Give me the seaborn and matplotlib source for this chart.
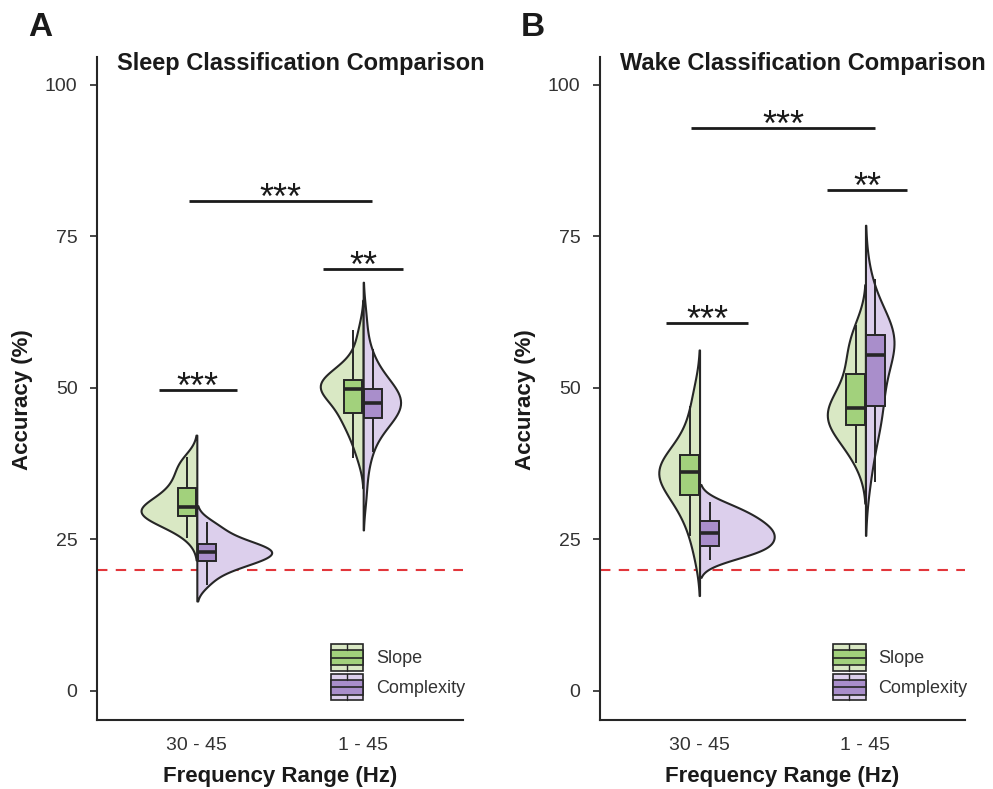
import numpy as np
import pandas as pd
import matplotlib
matplotlib.use("Agg")
import matplotlib.pyplot as plt
import seaborn as sns
from matplotlib.patches import Rectangle, Patch
from matplotlib.lines import Line2D
from matplotlib.legend_handler import HandlerBase

# ---------------- data ----------------
categories = ["30 - 45", "1 - 45"]
methods = ["Slope", "Complexity"]

sleep_30_slope = [25.2, 26.4, 27.3, 27.8, 28.1, 28.3, 28.7, 29.0, 29.1, 29.5, 29.6, 29.8, 30.1,
                  30.2, 30.6, 30.7, 31.2, 31.6, 32.1, 32.7, 33.3, 33.9, 34.5, 35.4, 36.3,
                  37.1, 37.9, 38.6]
sleep_30_complexity = [17.5, 18.8, 19.8, 20.5, 20.9, 21.1, 21.5, 21.8, 22.1, 22.4, 22.6, 22.8,
                       23.0, 23.2, 23.4, 23.6, 23.9, 24.2, 24.6, 25.0, 25.6, 26.4, 27.1, 27.9]
sleep_1_slope = [38.4, 40.5, 42.0, 43.3, 44.4, 45.0, 45.4, 46.0, 46.8, 47.8, 48.6, 49.2, 49.5,
                 49.8, 50.0, 50.2, 50.4, 50.6, 50.8, 51.0, 51.3, 51.6, 52.0, 52.6, 53.5,
                 55.0, 57.0, 59.6]
sleep_1_complexity = [32.5, 37.5, 39.5, 41.5, 43.0, 43.9, 44.4, 45.2, 45.8, 46.0, 46.3, 46.6,
                      46.9, 47.2, 47.8, 48.2, 48.6, 48.8, 49.2, 49.4, 49.8, 50.2, 51.2, 52.2,
                      53.3, 54.8, 56.5, 61.5]

wake_30_slope = [22.2, 25.5, 27.5, 29.0, 30.3, 31.2, 32.0, 32.8, 33.5, 34.2, 34.9, 35.2, 35.5,
                 36.1, 36.4, 36.7, 37.0, 37.3, 37.9, 38.6, 39.3, 40.2, 41.3, 42.8, 44.5,
                 47.0, 49.8]
wake_30_complexity = [21.6, 22.3, 22.8, 23.1, 23.4, 23.7, 24.0, 24.4, 24.8, 25.2, 25.6, 25.9,
                      26.1, 26.4, 26.8, 27.2, 27.6, 28.0, 28.4, 28.8, 29.3, 29.8, 30.5, 31.2]
wake_1_slope = [37.6, 39.5, 41.0, 42.2, 43.0, 43.6, 44.2, 44.8, 45.3, 45.8, 46.2,
                46.7, 47.2, 48.0, 49.0, 50.2, 51.5, 53.2, 54.5, 55.8, 57.3, 58.8, 60.4]
wake_1_complexity = [34.5, 38.5, 41.5, 43.5, 45.0, 46.0, 47.0, 48.5, 50.0, 51.5, 53.0, 54.5,
                     55.5, 56.5, 57.3, 57.8, 58.0, 58.5, 58.8, 59.0, 59.8, 61.0, 62.5, 64.5,
                     68.0]

chance_level = 20

# significance annotations: (x_start, x_end, y, label)
sleep_sig = [(-0.05, 1.05, 80.9, "***"), (0.76, 1.24, 69.6, "**"), (-0.23, 0.24, 49.7, "***")]
wake_sig = [(-0.05, 1.06, 92.9, "***"), (0.77, 1.25, 82.7, "**"), (-0.2, 0.29, 60.7, "***")]

titles = ["Sleep Classification Comparison", "Wake Classification Comparison"]
panel_letters = ["A", "B"]
yticks = [0, 25, 50, 75, 100]


def make_df(groups):
    rows = []
    for (cat, meth), vals in groups.items():
        for v in vals:
            rows.append({"Frequency": cat, "Method": meth, "Accuracy": v})
    return pd.DataFrame(rows)


sleep_df = make_df({
    ("30 - 45", "Slope"): sleep_30_slope,
    ("30 - 45", "Complexity"): sleep_30_complexity,
    ("1 - 45", "Slope"): sleep_1_slope,
    ("1 - 45", "Complexity"): sleep_1_complexity,
})
wake_df = make_df({
    ("30 - 45", "Slope"): wake_30_slope,
    ("30 - 45", "Complexity"): wake_30_complexity,
    ("1 - 45", "Slope"): wake_1_slope,
    ("1 - 45", "Complexity"): wake_1_complexity,
})

# ---------------- style ----------------
sns.set_theme(style="white")
plt.rcParams["font.family"] = ["Liberation Sans", "DejaVu Sans"]

violin_pal = {"Slope": "#d9e8c4", "Complexity": "#dccfec"}
box_pal = {"Slope": "#a2d17c", "Complexity": "#a98ecb"}
edge = "#262626"

fig = plt.figure(figsize=(9.93, 7.89), dpi=100)
axA = fig.add_axes([97 / 993, 69 / 789, 366 / 993, 663 / 789])
axB = fig.add_axes([600 / 993, 69 / 789, 365 / 993, 663 / 789])


class BoxKey(HandlerBase):
    def __init__(self, light, dark):
        super().__init__()
        self.light = light
        self.dark = dark

    def create_artists(self, legend, orig_handle, xdescent, ydescent, width, height, fontsize, trans):
        x0, y0 = -xdescent, -ydescent
        arts = [
            Rectangle((x0, y0), width, height, facecolor=self.light, edgecolor=edge, lw=1.2, transform=trans),
            Rectangle((x0, y0 + 0.22 * height), width, 0.56 * height, facecolor=self.dark,
                      edgecolor=edge, lw=1.2, transform=trans),
            Line2D([x0, x0 + width], [y0 + 0.5 * height] * 2, color=edge, lw=1.2, transform=trans),
            Line2D([x0 + width / 2] * 2, [y0, y0 + 0.22 * height], color=edge, lw=1.0, transform=trans),
            Line2D([x0 + width / 2] * 2, [y0 + 0.78 * height, y0 + height], color=edge, lw=1.0, transform=trans),
        ]
        return arts


for ax, df, sig, title, letter in zip([axA, axB], [sleep_df, wake_df], [sleep_sig, wake_sig],
                                      titles, panel_letters):
    sns.violinplot(data=df, x="Frequency", y="Accuracy", hue="Method", order=categories,
                   hue_order=methods, split=True, inner=None, palette=violin_pal,
                   common_norm=True, saturation=1, linewidth=1.5, linecolor=edge,
                   width=0.9, ax=ax, legend=False)
    sns.boxplot(data=df, x="Frequency", y="Accuracy", hue="Method", order=categories,
                hue_order=methods, palette=box_pal, saturation=1, width=0.24, gap=0.08,
                dodge=True, showfliers=False, linewidth=1.4, linecolor=edge,
                capprops=dict(linewidth=0),
                medianprops=dict(linewidth=2.6, color=edge), ax=ax, legend=False)
    ax.axhline(chance_level, color="#e2363b", lw=1.5, ls=(0, (5, 4)), zorder=0.5)

    for x1, x2, y, lab in sig:
        ax.plot([x1, x2], [y, y], color="#1a1a1a", lw=2.0, solid_capstyle="butt")
        ax.text((x1 + x2) / 2, y - 1.3, lab, ha="center", va="baseline", fontsize=26,
                color="#1a1a1a")

    ax.set_xlim(-0.6, 1.6)
    ax.set_ylim(-4.8, 104.6)
    ax.set_yticks(yticks)
    ax.tick_params(axis="y", left=True, length=5, width=1.2, color=edge, labelsize=14,
                   labelcolor="#333333", pad=9)
    ax.tick_params(axis="x", bottom=False, length=0, labelsize=14, labelcolor="#333333", pad=12)
    for s in ["top", "right"]:
        ax.spines[s].set_visible(False)
    for s in ["left", "bottom"]:
        ax.spines[s].set_color(edge)
        ax.spines[s].set_linewidth(1.5)
    ax.set_xlabel("Frequency Range (Hz)", fontsize=16, fontweight="bold", color="#1a1a1a", labelpad=9)
    ax.set_ylabel("Accuracy (%)", fontsize=16, fontweight="bold", color="#1a1a1a")
    ax.yaxis.set_label_coords(-0.175, 0.483)
    ax.text(0.055, 0.99, title, transform=ax.transAxes, ha="left", va="center",
            fontsize=17, fontweight="bold", color="#1a1a1a")

    h1, h2 = Patch(), Patch()
    ax.legend([h1, h2], methods, loc="lower left", bbox_to_anchor=(0.595, 0.005), frameon=False,
              handlelength=1.78, handleheight=1.9, labelspacing=0.15, handletextpad=0.7,
              fontsize=13, labelcolor="#333333",
              handler_map={h1: BoxKey(violin_pal["Slope"], box_pal["Slope"]),
                           h2: BoxKey(violin_pal["Complexity"], box_pal["Complexity"])})

fig.text(40 / 993, 1 - 28 / 789, "A", fontsize=24, fontweight="bold", ha="center", va="center", color="#1a1a1a")
fig.text(533 / 993, 1 - 28 / 789, "B", fontsize=24, fontweight="bold", ha="center", va="center", color="#1a1a1a")

fig.savefig("out.png", dpi=100)
